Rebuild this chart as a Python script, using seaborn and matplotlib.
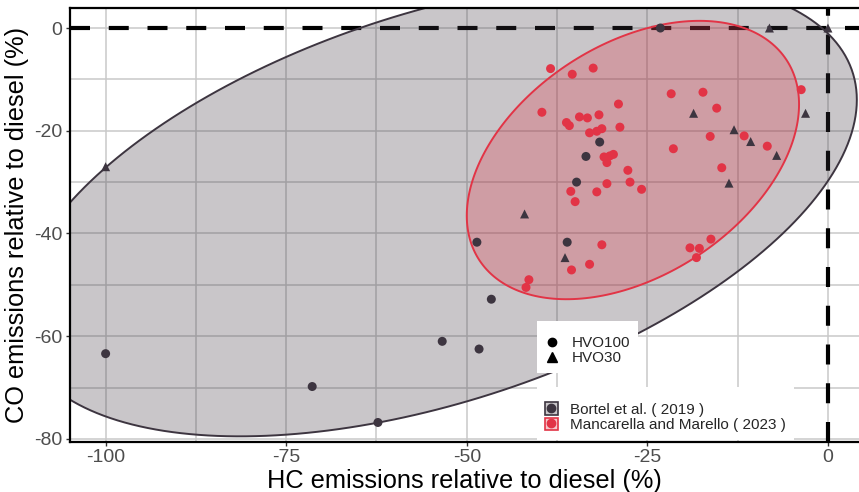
import numpy as np
import pandas as pd
import matplotlib
matplotlib.use("Agg")
import matplotlib.pyplot as plt
import seaborn as sns
from matplotlib.patches import Polygon, Patch
from matplotlib.lines import Line2D
from matplotlib.legend_handler import HandlerTuple
from matplotlib.colors import to_rgba

# ---- data: emissions relative to diesel (%) ----
bortel_hvo100_hc = [-100.0, -71.4, -62.3, -53.4, -48.3, -48.6, -46.6, -36.1, -34.8, -33.5, -31.6, -23.2]
bortel_hvo100_co = [-63.4, -69.8, -76.8, -61.0, -62.5, -41.7, -52.8, -41.7, -30.0, -25.0, -22.2, 0.0]

bortel_hvo30_hc = [-100.0, -42.0, -36.4, -18.6, -3.1, -13.0, -10.7, -7.1, -13.7, -8.1, 0.0]
bortel_hvo30_co = [-27.0, -36.2, -44.7, -16.6, -16.6, -19.8, -22.1, -24.8, -30.2, 0.0, 0.0]

mancarella_hc = [-38.4, -35.4, -32.5, -29.0, -39.6, -36.2, -35.8, -34.4, -33.3, -31.7,
                 -28.8, -33.0, -32.0, -31.3, -31.0, -30.2, -29.7, -30.6, -27.7, -27.4,
                 -25.8, -30.6, -32.0, -35.6, -35.0, -31.3, -33.0, -35.5, -41.4, -41.8,
                 -21.7, -17.3, -3.7, -15.4, -16.3, -21.4, -11.6, -8.4, -14.7, -16.2,
                 -19.1, -17.8, -18.2]
mancarella_co = [-7.9, -9.0, -7.8, -14.8, -16.4, -18.4, -19.0, -17.3, -17.5, -16.9,
                 -19.3, -20.4, -20.1, -19.6, -25.1, -24.9, -24.6, -26.2, -27.7, -30.0,
                 -31.4, -30.3, -31.9, -31.8, -33.8, -42.2, -46.0, -47.1, -49.0, -50.5,
                 -12.8, -12.5, -12.0, -15.6, -21.1, -23.5, -21.0, -23.0, -27.2, -41.1,
                 -42.8, -42.9, -44.7]

studies = ["Bortel et al. ( 2019 )", "Mancarella and Marello ( 2023 )"]
blends = ["HVO100", "HVO30"]
x_ticks = [-100, -75, -50, -25, 0]
y_ticks = [0, -20, -40, -60, -80]

# confidence ellipse per study: centre (HC, CO), half-extents (HC, CO), correlation
ellipse_center = {studies[0]: (-54.15, -34.9), studies[1]: (-27.0, -25.7)}
ellipse_extent = {studies[0]: (58.15, 44.6), studies[1]: (23.0, 27.1)}
ellipse_rho = {studies[0]: 0.469, studies[1]: 0.40}

colors = {studies[0]: "#3d3540", studies[1]: "#e23446"}

df = pd.concat([
    pd.DataFrame({"hc": bortel_hvo100_hc, "co": bortel_hvo100_co, "study": studies[0], "blend": blends[0]}),
    pd.DataFrame({"hc": bortel_hvo30_hc, "co": bortel_hvo30_co, "study": studies[0], "blend": blends[1]}),
    pd.DataFrame({"hc": mancarella_hc, "co": mancarella_co, "study": studies[1], "blend": blends[0]}),
], ignore_index=True)


def ellipse_outline(center, extent, rho, segments=240):
    sx, sy = extent
    shape = np.array([[sx * sx, rho * sx * sy], [rho * sx * sy, sy * sy]])
    L = np.linalg.cholesky(shape)
    ang = np.linspace(0, 2 * np.pi, segments + 1)
    circle = np.column_stack([np.cos(ang), np.sin(ang)])
    return np.asarray(center) + circle @ L.T


sns.set_theme(style="white")
plt.rcParams["font.family"] = ["Liberation Sans", "DejaVu Sans"]
plt.rcParams["axes.unicode_minus"] = False

fig = plt.figure(figsize=(8.59, 4.92), dpi=100)
ax = fig.add_axes([69.5 / 859, 1 - 442 / 492, 1 - 69.5 / 859, (442 - 8) / 492])

ax.set_xlim(-105, 4.3)
ax.set_ylim(-80.6, 3.9)
ax.set_xticks(x_ticks)
ax.set_xticks([-87.5, -62.5, -37.5, -12.5], minor=True)
ax.set_yticks(y_ticks)
ax.set_yticks([-10, -30, -50, -70], minor=True)
ax.grid(which="both", color="#c9c9c9", linewidth=1.1, zorder=0)
ax.set_axisbelow(True)

# reference lines at zero change
ax.axhline(0, color="black", linewidth=3, dashes=(4.8, 4.5), zorder=1)
ax.axvline(0, color="black", linewidth=3, dashes=(4.8, 4.5), zorder=1)

# ellipses per study
for study in studies:
    pts = ellipse_outline(ellipse_center[study], ellipse_extent[study], ellipse_rho[study])
    ax.add_patch(Polygon(pts, closed=True, facecolor=to_rgba(colors[study], 0.28),
                         edgecolor=colors[study], linewidth=1.4, zorder=2))

sns.scatterplot(data=df, x="hc", y="co", hue="study", style="blend",
                palette=colors, markers={"HVO100": "o", "HVO30": "^"},
                s=42, edgecolor="none", legend=False, ax=ax, zorder=3)

ax.set_xlabel("HC emissions relative to diesel (%)", fontsize=18.3, color="black", labelpad=2)
ax.set_ylabel("CO emissions relative to diesel (%)", fontsize=18.3, color="black", labelpad=4)
ax.tick_params(axis="both", which="major", labelsize=14, labelcolor="#4d4d4d",
               length=3, width=1, color="#333333", pad=2, left=True, bottom=True)
ax.tick_params(which="minor", length=0)

for side in ["left", "bottom", "top"]:
    ax.spines[side].set_color("black")
    ax.spines[side].set_linewidth(1.6)
ax.spines["right"].set_visible(False)

# legends
shape_handles = [Line2D([], [], marker="o", color="black", linestyle="", markersize=6),
                 Line2D([], [], marker="^", color="black", linestyle="", markersize=7)]
leg1 = ax.legend(shape_handles, blends, loc="upper left", bbox_to_anchor=(0.592, 0.279),
                 fontsize=11, title=" ", title_fontsize=6, frameon=True, fancybox=False,
                 framealpha=1, facecolor="white", edgecolor="none", borderpad=0.5,
                 labelspacing=0.05, handlelength=1.0, handletextpad=0.8, borderaxespad=0)
leg1.set_zorder(5)
ax.add_artist(leg1)

study_handles = [(Patch(facecolor=to_rgba(colors[s], 0.28), edgecolor=colors[s], linewidth=1.2),
                  Line2D([], [], marker="o", color=colors[s], linestyle="", markersize=6))
                 for s in studies]
leg2 = ax.legend(study_handles, studies, loc="upper left", bbox_to_anchor=(0.592, 0.127),
                 handler_map={tuple: HandlerTuple(ndivide=1, pad=0)},
                 fontsize=11, title=" ", title_fontsize=5, frameon=True, fancybox=False,
                 framealpha=1, facecolor="white", edgecolor="none", borderpad=0.5,
                 labelspacing=0.05, handlelength=0.9, handleheight=0.9,
                 handletextpad=0.8, borderaxespad=0)
leg2.set_zorder(5)

fig.savefig("out.png", dpi=100)
